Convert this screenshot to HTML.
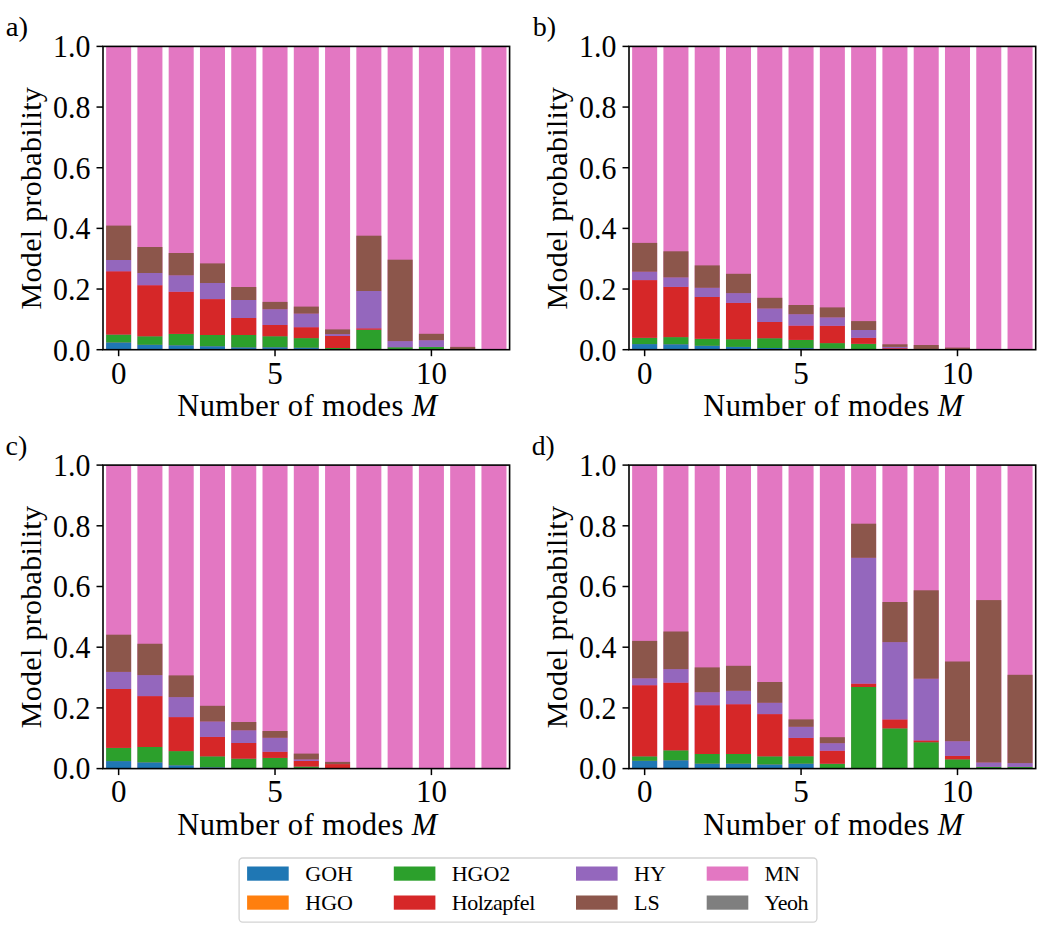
<!DOCTYPE html>
<html><head><meta charset="utf-8"><style>
html,body{margin:0;padding:0;background:#fff;}
svg{display:block;}
text{font-family:"Liberation Serif",serif;fill:#000;}
</style></head><body>
<svg width="1050" height="928" viewBox="0 0 1050 928">
<rect width="1050" height="928" fill="#fff"/>
<rect x="106.13" y="46.4" width="25.02" height="303.3" fill="#e377c2"/>
<rect x="106.13" y="342.5" width="25.02" height="7.2" fill="#1f77b4"/>
<rect x="106.13" y="334.5" width="25.02" height="8" fill="#2ca02c"/>
<rect x="106.13" y="271.25" width="25.02" height="63.25" fill="#d62728"/>
<rect x="106.13" y="260" width="25.02" height="11.25" fill="#9467bd"/>
<rect x="106.13" y="225.6" width="25.02" height="34.4" fill="#8c564b"/>
<rect x="137.4" y="46.4" width="25.02" height="303.3" fill="#e377c2"/>
<rect x="137.4" y="344.8" width="25.02" height="4.9" fill="#1f77b4"/>
<rect x="137.4" y="336.25" width="25.02" height="8.55" fill="#2ca02c"/>
<rect x="137.4" y="285.2" width="25.02" height="51.05" fill="#d62728"/>
<rect x="137.4" y="273" width="25.02" height="12.2" fill="#9467bd"/>
<rect x="137.4" y="247" width="25.02" height="26" fill="#8c564b"/>
<rect x="168.68" y="46.4" width="25.02" height="303.3" fill="#e377c2"/>
<rect x="168.68" y="345.3" width="25.02" height="4.4" fill="#1f77b4"/>
<rect x="168.68" y="333.9" width="25.02" height="11.4" fill="#2ca02c"/>
<rect x="168.68" y="291.7" width="25.02" height="42.2" fill="#d62728"/>
<rect x="168.68" y="275.3" width="25.02" height="16.4" fill="#9467bd"/>
<rect x="168.68" y="253" width="25.02" height="22.3" fill="#8c564b"/>
<rect x="199.96" y="46.4" width="25.02" height="303.3" fill="#e377c2"/>
<rect x="199.96" y="346.25" width="25.02" height="3.45" fill="#1f77b4"/>
<rect x="199.96" y="335" width="25.02" height="11.25" fill="#2ca02c"/>
<rect x="199.96" y="299.1" width="25.02" height="35.9" fill="#d62728"/>
<rect x="199.96" y="283" width="25.02" height="16.1" fill="#9467bd"/>
<rect x="199.96" y="263.4" width="25.02" height="19.6" fill="#8c564b"/>
<rect x="231.24" y="46.4" width="25.02" height="303.3" fill="#e377c2"/>
<rect x="231.24" y="347.4" width="25.02" height="2.3" fill="#1f77b4"/>
<rect x="231.24" y="335" width="25.02" height="12.4" fill="#2ca02c"/>
<rect x="231.24" y="318" width="25.02" height="17" fill="#d62728"/>
<rect x="231.24" y="300" width="25.02" height="18" fill="#9467bd"/>
<rect x="231.24" y="287" width="25.02" height="13" fill="#8c564b"/>
<rect x="262.51" y="46.4" width="25.02" height="303.3" fill="#e377c2"/>
<rect x="262.51" y="347.3" width="25.02" height="2.4" fill="#1f77b4"/>
<rect x="262.51" y="336.2" width="25.02" height="11.1" fill="#2ca02c"/>
<rect x="262.51" y="325" width="25.02" height="11.2" fill="#d62728"/>
<rect x="262.51" y="309.2" width="25.02" height="15.8" fill="#9467bd"/>
<rect x="262.51" y="301.9" width="25.02" height="7.3" fill="#8c564b"/>
<rect x="293.79" y="46.4" width="25.02" height="303.3" fill="#e377c2"/>
<rect x="293.79" y="347.75" width="25.02" height="1.95" fill="#1f77b4"/>
<rect x="293.79" y="338.1" width="25.02" height="9.65" fill="#2ca02c"/>
<rect x="293.79" y="327.2" width="25.02" height="10.9" fill="#d62728"/>
<rect x="293.79" y="313.6" width="25.02" height="13.6" fill="#9467bd"/>
<rect x="293.79" y="306.6" width="25.02" height="7" fill="#8c564b"/>
<rect x="325.07" y="46.4" width="25.02" height="303.3" fill="#e377c2"/>
<rect x="325.07" y="348" width="25.02" height="1.7" fill="#2ca02c"/>
<rect x="325.07" y="336" width="25.02" height="12" fill="#d62728"/>
<rect x="325.07" y="334.1" width="25.02" height="1.9" fill="#9467bd"/>
<rect x="325.07" y="329.4" width="25.02" height="4.7" fill="#8c564b"/>
<rect x="356.34" y="46.4" width="25.02" height="303.3" fill="#e377c2"/>
<rect x="356.34" y="329.7" width="25.02" height="20" fill="#2ca02c"/>
<rect x="356.34" y="328.3" width="25.02" height="1.4" fill="#d62728"/>
<rect x="356.34" y="291" width="25.02" height="37.3" fill="#9467bd"/>
<rect x="356.34" y="235.7" width="25.02" height="55.3" fill="#8c564b"/>
<rect x="387.62" y="46.4" width="25.02" height="303.3" fill="#e377c2"/>
<rect x="387.62" y="347.2" width="25.02" height="2.5" fill="#2ca02c"/>
<rect x="387.62" y="341.1" width="25.02" height="6.1" fill="#9467bd"/>
<rect x="387.62" y="259.7" width="25.02" height="81.4" fill="#8c564b"/>
<rect x="418.9" y="46.4" width="25.02" height="303.3" fill="#e377c2"/>
<rect x="418.9" y="346.9" width="25.02" height="2.8" fill="#2ca02c"/>
<rect x="418.9" y="340.2" width="25.02" height="6.7" fill="#9467bd"/>
<rect x="418.9" y="333.8" width="25.02" height="6.4" fill="#8c564b"/>
<rect x="450.17" y="46.4" width="25.02" height="303.3" fill="#e377c2"/>
<rect x="450.17" y="346.9" width="25.02" height="2.8" fill="#8c564b"/>
<rect x="481.45" y="46.4" width="25.02" height="303.3" fill="#e377c2"/>
<rect x="103" y="46.4" width="406.6" height="303.3" fill="none" stroke="#000" stroke-width="1.6"/>
<line x1="96.5" y1="349.7" x2="103" y2="349.7" stroke="#000" stroke-width="1.5"/>
<text x="90.3" y="360.5" text-anchor="end" font-size="31" textLength="37.3" lengthAdjust="spacingAndGlyphs">0.0</text>
<line x1="96.5" y1="289.04" x2="103" y2="289.04" stroke="#000" stroke-width="1.5"/>
<text x="90.3" y="299.84" text-anchor="end" font-size="31" textLength="37.3" lengthAdjust="spacingAndGlyphs">0.2</text>
<line x1="96.5" y1="228.38" x2="103" y2="228.38" stroke="#000" stroke-width="1.5"/>
<text x="90.3" y="239.18" text-anchor="end" font-size="31" textLength="37.3" lengthAdjust="spacingAndGlyphs">0.4</text>
<line x1="96.5" y1="167.72" x2="103" y2="167.72" stroke="#000" stroke-width="1.5"/>
<text x="90.3" y="178.52" text-anchor="end" font-size="31" textLength="37.3" lengthAdjust="spacingAndGlyphs">0.6</text>
<line x1="96.5" y1="107.06" x2="103" y2="107.06" stroke="#000" stroke-width="1.5"/>
<text x="90.3" y="117.86" text-anchor="end" font-size="31" textLength="37.3" lengthAdjust="spacingAndGlyphs">0.8</text>
<line x1="96.5" y1="46.4" x2="103" y2="46.4" stroke="#000" stroke-width="1.5"/>
<text x="90.3" y="57.2" text-anchor="end" font-size="31" textLength="37.3" lengthAdjust="spacingAndGlyphs">1.0</text>
<line x1="118.64" y1="349.7" x2="118.64" y2="356.2" stroke="#000" stroke-width="1.5"/>
<text x="118.64" y="383.5" text-anchor="middle" font-size="31">0</text>
<line x1="275.02" y1="349.7" x2="275.02" y2="356.2" stroke="#000" stroke-width="1.5"/>
<text x="275.02" y="383.5" text-anchor="middle" font-size="31">5</text>
<line x1="431.41" y1="349.7" x2="431.41" y2="356.2" stroke="#000" stroke-width="1.5"/>
<text x="431.41" y="383.5" text-anchor="middle" font-size="31">10</text>
<text x="177.2" y="416.1" font-size="30.5" textLength="260" lengthAdjust="spacing">Number of modes <tspan font-style="italic">M</tspan></text>
<text transform="translate(41,309.4) rotate(-90)" x="0" y="0" font-size="30" textLength="222.2" lengthAdjust="spacing">Model probability</text>
<text x="5.72" y="35.8" font-size="28" textLength="22.4" lengthAdjust="spacingAndGlyphs">a)</text>
<rect x="632.13" y="46.4" width="25.03" height="303.3" fill="#e377c2"/>
<rect x="632.13" y="344.1" width="25.03" height="5.6" fill="#1f77b4"/>
<rect x="632.13" y="337.8" width="25.03" height="6.3" fill="#2ca02c"/>
<rect x="632.13" y="280.1" width="25.03" height="57.7" fill="#d62728"/>
<rect x="632.13" y="271.7" width="25.03" height="8.4" fill="#9467bd"/>
<rect x="632.13" y="242.9" width="25.03" height="28.8" fill="#8c564b"/>
<rect x="663.41" y="46.4" width="25.03" height="303.3" fill="#e377c2"/>
<rect x="663.41" y="344.3" width="25.03" height="5.4" fill="#1f77b4"/>
<rect x="663.41" y="337.1" width="25.03" height="7.2" fill="#2ca02c"/>
<rect x="663.41" y="286.9" width="25.03" height="50.2" fill="#d62728"/>
<rect x="663.41" y="277.4" width="25.03" height="9.5" fill="#9467bd"/>
<rect x="663.41" y="251.3" width="25.03" height="26.1" fill="#8c564b"/>
<rect x="694.7" y="46.4" width="25.03" height="303.3" fill="#e377c2"/>
<rect x="694.7" y="345.8" width="25.03" height="3.9" fill="#1f77b4"/>
<rect x="694.7" y="338.8" width="25.03" height="7" fill="#2ca02c"/>
<rect x="694.7" y="297" width="25.03" height="41.8" fill="#d62728"/>
<rect x="694.7" y="287.8" width="25.03" height="9.2" fill="#9467bd"/>
<rect x="694.7" y="265.4" width="25.03" height="22.4" fill="#8c564b"/>
<rect x="725.98" y="46.4" width="25.03" height="303.3" fill="#e377c2"/>
<rect x="725.98" y="346.9" width="25.03" height="2.8" fill="#1f77b4"/>
<rect x="725.98" y="339.2" width="25.03" height="7.7" fill="#2ca02c"/>
<rect x="725.98" y="302.9" width="25.03" height="36.3" fill="#d62728"/>
<rect x="725.98" y="293.1" width="25.03" height="9.8" fill="#9467bd"/>
<rect x="725.98" y="273.8" width="25.03" height="19.3" fill="#8c564b"/>
<rect x="757.27" y="46.4" width="25.03" height="303.3" fill="#e377c2"/>
<rect x="757.27" y="348" width="25.03" height="1.7" fill="#1f77b4"/>
<rect x="757.27" y="338.2" width="25.03" height="9.8" fill="#2ca02c"/>
<rect x="757.27" y="322" width="25.03" height="16.2" fill="#d62728"/>
<rect x="757.27" y="308.5" width="25.03" height="13.5" fill="#9467bd"/>
<rect x="757.27" y="297.8" width="25.03" height="10.7" fill="#8c564b"/>
<rect x="788.55" y="46.4" width="25.03" height="303.3" fill="#e377c2"/>
<rect x="788.55" y="348.1" width="25.03" height="1.6" fill="#1f77b4"/>
<rect x="788.55" y="339.9" width="25.03" height="8.2" fill="#2ca02c"/>
<rect x="788.55" y="325.6" width="25.03" height="14.3" fill="#d62728"/>
<rect x="788.55" y="314.2" width="25.03" height="11.4" fill="#9467bd"/>
<rect x="788.55" y="305" width="25.03" height="9.2" fill="#8c564b"/>
<rect x="819.84" y="46.4" width="25.03" height="303.3" fill="#e377c2"/>
<rect x="819.84" y="348.7" width="25.03" height="1" fill="#1f77b4"/>
<rect x="819.84" y="343.1" width="25.03" height="5.6" fill="#2ca02c"/>
<rect x="819.84" y="325.8" width="25.03" height="17.3" fill="#d62728"/>
<rect x="819.84" y="317.4" width="25.03" height="8.4" fill="#9467bd"/>
<rect x="819.84" y="307.4" width="25.03" height="10" fill="#8c564b"/>
<rect x="851.12" y="46.4" width="25.03" height="303.3" fill="#e377c2"/>
<rect x="851.12" y="343.8" width="25.03" height="5.9" fill="#2ca02c"/>
<rect x="851.12" y="337.8" width="25.03" height="6" fill="#d62728"/>
<rect x="851.12" y="330" width="25.03" height="7.8" fill="#9467bd"/>
<rect x="851.12" y="321.1" width="25.03" height="8.9" fill="#8c564b"/>
<rect x="882.41" y="46.4" width="25.03" height="303.3" fill="#e377c2"/>
<rect x="882.41" y="349.2" width="25.03" height="0.5" fill="#2ca02c"/>
<rect x="882.41" y="348.2" width="25.03" height="1" fill="#d62728"/>
<rect x="882.41" y="346.9" width="25.03" height="1.3" fill="#9467bd"/>
<rect x="882.41" y="344.3" width="25.03" height="2.6" fill="#8c564b"/>
<rect x="913.69" y="46.4" width="25.03" height="303.3" fill="#e377c2"/>
<rect x="913.69" y="349" width="25.03" height="0.7" fill="#9467bd"/>
<rect x="913.69" y="345" width="25.03" height="4" fill="#8c564b"/>
<rect x="944.97" y="46.4" width="25.03" height="303.3" fill="#e377c2"/>
<rect x="944.97" y="347.6" width="25.03" height="2.1" fill="#8c564b"/>
<rect x="976.26" y="46.4" width="25.03" height="303.3" fill="#e377c2"/>
<rect x="1007.54" y="46.4" width="25.03" height="303.3" fill="#e377c2"/>
<rect x="629" y="46.4" width="406.7" height="303.3" fill="none" stroke="#000" stroke-width="1.6"/>
<line x1="622.5" y1="349.7" x2="629" y2="349.7" stroke="#000" stroke-width="1.5"/>
<text x="616.3" y="360.5" text-anchor="end" font-size="31" textLength="37.3" lengthAdjust="spacingAndGlyphs">0.0</text>
<line x1="622.5" y1="289.04" x2="629" y2="289.04" stroke="#000" stroke-width="1.5"/>
<text x="616.3" y="299.84" text-anchor="end" font-size="31" textLength="37.3" lengthAdjust="spacingAndGlyphs">0.2</text>
<line x1="622.5" y1="228.38" x2="629" y2="228.38" stroke="#000" stroke-width="1.5"/>
<text x="616.3" y="239.18" text-anchor="end" font-size="31" textLength="37.3" lengthAdjust="spacingAndGlyphs">0.4</text>
<line x1="622.5" y1="167.72" x2="629" y2="167.72" stroke="#000" stroke-width="1.5"/>
<text x="616.3" y="178.52" text-anchor="end" font-size="31" textLength="37.3" lengthAdjust="spacingAndGlyphs">0.6</text>
<line x1="622.5" y1="107.06" x2="629" y2="107.06" stroke="#000" stroke-width="1.5"/>
<text x="616.3" y="117.86" text-anchor="end" font-size="31" textLength="37.3" lengthAdjust="spacingAndGlyphs">0.8</text>
<line x1="622.5" y1="46.4" x2="629" y2="46.4" stroke="#000" stroke-width="1.5"/>
<text x="616.3" y="57.2" text-anchor="end" font-size="31" textLength="37.3" lengthAdjust="spacingAndGlyphs">1.0</text>
<line x1="644.64" y1="349.7" x2="644.64" y2="356.2" stroke="#000" stroke-width="1.5"/>
<text x="644.64" y="383.5" text-anchor="middle" font-size="31">0</text>
<line x1="801.07" y1="349.7" x2="801.07" y2="356.2" stroke="#000" stroke-width="1.5"/>
<text x="801.07" y="383.5" text-anchor="middle" font-size="31">5</text>
<line x1="957.49" y1="349.7" x2="957.49" y2="356.2" stroke="#000" stroke-width="1.5"/>
<text x="957.49" y="383.5" text-anchor="middle" font-size="31">10</text>
<text x="703.25" y="416.1" font-size="30.5" textLength="260" lengthAdjust="spacing">Number of modes <tspan font-style="italic">M</tspan></text>
<text transform="translate(567,309.4) rotate(-90)" x="0" y="0" font-size="30" textLength="222.2" lengthAdjust="spacing">Model probability</text>
<text x="532.7" y="35.8" font-size="28" textLength="23.4" lengthAdjust="spacingAndGlyphs">b)</text>
<rect x="106.13" y="465.1" width="25.02" height="303.5" fill="#e377c2"/>
<rect x="106.13" y="761.1" width="25.02" height="7.5" fill="#1f77b4"/>
<rect x="106.13" y="747.9" width="25.02" height="13.2" fill="#2ca02c"/>
<rect x="106.13" y="689" width="25.02" height="58.9" fill="#d62728"/>
<rect x="106.13" y="671.9" width="25.02" height="17.1" fill="#9467bd"/>
<rect x="106.13" y="634.7" width="25.02" height="37.2" fill="#8c564b"/>
<rect x="137.4" y="465.1" width="25.02" height="303.5" fill="#e377c2"/>
<rect x="137.4" y="762.4" width="25.02" height="6.2" fill="#1f77b4"/>
<rect x="137.4" y="747" width="25.02" height="15.4" fill="#2ca02c"/>
<rect x="137.4" y="696.1" width="25.02" height="50.9" fill="#d62728"/>
<rect x="137.4" y="675.1" width="25.02" height="21" fill="#9467bd"/>
<rect x="137.4" y="643.75" width="25.02" height="31.35" fill="#8c564b"/>
<rect x="168.68" y="465.1" width="25.02" height="303.5" fill="#e377c2"/>
<rect x="168.68" y="765.3" width="25.02" height="3.3" fill="#1f77b4"/>
<rect x="168.68" y="751.1" width="25.02" height="14.2" fill="#2ca02c"/>
<rect x="168.68" y="717.1" width="25.02" height="34" fill="#d62728"/>
<rect x="168.68" y="697.1" width="25.02" height="20" fill="#9467bd"/>
<rect x="168.68" y="675.4" width="25.02" height="21.7" fill="#8c564b"/>
<rect x="199.96" y="465.1" width="25.02" height="303.5" fill="#e377c2"/>
<rect x="199.96" y="767.3" width="25.02" height="1.3" fill="#1f77b4"/>
<rect x="199.96" y="756.3" width="25.02" height="11" fill="#2ca02c"/>
<rect x="199.96" y="736.9" width="25.02" height="19.4" fill="#d62728"/>
<rect x="199.96" y="721.5" width="25.02" height="15.4" fill="#9467bd"/>
<rect x="199.96" y="705.8" width="25.02" height="15.7" fill="#8c564b"/>
<rect x="231.24" y="465.1" width="25.02" height="303.5" fill="#e377c2"/>
<rect x="231.24" y="758.6" width="25.02" height="10" fill="#2ca02c"/>
<rect x="231.24" y="743" width="25.02" height="15.6" fill="#d62728"/>
<rect x="231.24" y="730.3" width="25.02" height="12.7" fill="#9467bd"/>
<rect x="231.24" y="722" width="25.02" height="8.3" fill="#8c564b"/>
<rect x="262.51" y="465.1" width="25.02" height="303.5" fill="#e377c2"/>
<rect x="262.51" y="757.9" width="25.02" height="10.7" fill="#2ca02c"/>
<rect x="262.51" y="751.75" width="25.02" height="6.15" fill="#d62728"/>
<rect x="262.51" y="737.8" width="25.02" height="13.95" fill="#9467bd"/>
<rect x="262.51" y="731" width="25.02" height="6.8" fill="#8c564b"/>
<rect x="293.79" y="465.1" width="25.02" height="303.5" fill="#e377c2"/>
<rect x="293.79" y="766.5" width="25.02" height="2.1" fill="#2ca02c"/>
<rect x="293.79" y="760.9" width="25.02" height="5.6" fill="#d62728"/>
<rect x="293.79" y="759.4" width="25.02" height="1.5" fill="#9467bd"/>
<rect x="293.79" y="753.6" width="25.02" height="5.8" fill="#8c564b"/>
<rect x="325.07" y="465.1" width="25.02" height="303.5" fill="#e377c2"/>
<rect x="325.07" y="764.1" width="25.02" height="4.5" fill="#d62728"/>
<rect x="325.07" y="761.9" width="25.02" height="2.2" fill="#8c564b"/>
<rect x="356.34" y="465.1" width="25.02" height="303.5" fill="#e377c2"/>
<rect x="387.62" y="465.1" width="25.02" height="303.5" fill="#e377c2"/>
<rect x="418.9" y="465.1" width="25.02" height="303.5" fill="#e377c2"/>
<rect x="450.17" y="465.1" width="25.02" height="303.5" fill="#e377c2"/>
<rect x="481.45" y="465.1" width="25.02" height="303.5" fill="#e377c2"/>
<rect x="103" y="465.1" width="406.6" height="303.5" fill="none" stroke="#000" stroke-width="1.6"/>
<line x1="96.5" y1="768.6" x2="103" y2="768.6" stroke="#000" stroke-width="1.5"/>
<text x="90.3" y="779.4" text-anchor="end" font-size="31" textLength="37.3" lengthAdjust="spacingAndGlyphs">0.0</text>
<line x1="96.5" y1="707.9" x2="103" y2="707.9" stroke="#000" stroke-width="1.5"/>
<text x="90.3" y="718.7" text-anchor="end" font-size="31" textLength="37.3" lengthAdjust="spacingAndGlyphs">0.2</text>
<line x1="96.5" y1="647.2" x2="103" y2="647.2" stroke="#000" stroke-width="1.5"/>
<text x="90.3" y="658" text-anchor="end" font-size="31" textLength="37.3" lengthAdjust="spacingAndGlyphs">0.4</text>
<line x1="96.5" y1="586.5" x2="103" y2="586.5" stroke="#000" stroke-width="1.5"/>
<text x="90.3" y="597.3" text-anchor="end" font-size="31" textLength="37.3" lengthAdjust="spacingAndGlyphs">0.6</text>
<line x1="96.5" y1="525.8" x2="103" y2="525.8" stroke="#000" stroke-width="1.5"/>
<text x="90.3" y="536.6" text-anchor="end" font-size="31" textLength="37.3" lengthAdjust="spacingAndGlyphs">0.8</text>
<line x1="96.5" y1="465.1" x2="103" y2="465.1" stroke="#000" stroke-width="1.5"/>
<text x="90.3" y="475.9" text-anchor="end" font-size="31" textLength="37.3" lengthAdjust="spacingAndGlyphs">1.0</text>
<line x1="118.64" y1="768.6" x2="118.64" y2="775.1" stroke="#000" stroke-width="1.5"/>
<text x="118.64" y="802.4" text-anchor="middle" font-size="31">0</text>
<line x1="275.02" y1="768.6" x2="275.02" y2="775.1" stroke="#000" stroke-width="1.5"/>
<text x="275.02" y="802.4" text-anchor="middle" font-size="31">5</text>
<line x1="431.41" y1="768.6" x2="431.41" y2="775.1" stroke="#000" stroke-width="1.5"/>
<text x="431.41" y="802.4" text-anchor="middle" font-size="31">10</text>
<text x="177.2" y="835" font-size="30.5" textLength="260" lengthAdjust="spacing">Number of modes <tspan font-style="italic">M</tspan></text>
<text transform="translate(41,728.2) rotate(-90)" x="0" y="0" font-size="30" textLength="222.2" lengthAdjust="spacing">Model probability</text>
<text x="5.58" y="454.5" font-size="28" textLength="21.8" lengthAdjust="spacingAndGlyphs">c)</text>
<rect x="632.13" y="465.1" width="25.03" height="303.5" fill="#e377c2"/>
<rect x="632.13" y="760.8" width="25.03" height="7.8" fill="#1f77b4"/>
<rect x="632.13" y="756.3" width="25.03" height="4.5" fill="#2ca02c"/>
<rect x="632.13" y="685.2" width="25.03" height="71.1" fill="#d62728"/>
<rect x="632.13" y="678.3" width="25.03" height="6.9" fill="#9467bd"/>
<rect x="632.13" y="640.9" width="25.03" height="37.4" fill="#8c564b"/>
<rect x="663.41" y="465.1" width="25.03" height="303.5" fill="#e377c2"/>
<rect x="663.41" y="760.3" width="25.03" height="8.3" fill="#1f77b4"/>
<rect x="663.41" y="750.3" width="25.03" height="10" fill="#2ca02c"/>
<rect x="663.41" y="682.6" width="25.03" height="67.7" fill="#d62728"/>
<rect x="663.41" y="669.1" width="25.03" height="13.5" fill="#9467bd"/>
<rect x="663.41" y="631.5" width="25.03" height="37.6" fill="#8c564b"/>
<rect x="694.7" y="465.1" width="25.03" height="303.5" fill="#e377c2"/>
<rect x="694.7" y="763.7" width="25.03" height="4.9" fill="#1f77b4"/>
<rect x="694.7" y="754" width="25.03" height="9.7" fill="#2ca02c"/>
<rect x="694.7" y="705.2" width="25.03" height="48.8" fill="#d62728"/>
<rect x="694.7" y="692.2" width="25.03" height="13" fill="#9467bd"/>
<rect x="694.7" y="667.4" width="25.03" height="24.8" fill="#8c564b"/>
<rect x="725.98" y="465.1" width="25.03" height="303.5" fill="#e377c2"/>
<rect x="725.98" y="763.7" width="25.03" height="4.9" fill="#1f77b4"/>
<rect x="725.98" y="754" width="25.03" height="9.7" fill="#2ca02c"/>
<rect x="725.98" y="704.2" width="25.03" height="49.8" fill="#d62728"/>
<rect x="725.98" y="690.8" width="25.03" height="13.4" fill="#9467bd"/>
<rect x="725.98" y="665.8" width="25.03" height="25" fill="#8c564b"/>
<rect x="757.27" y="465.1" width="25.03" height="303.5" fill="#e377c2"/>
<rect x="757.27" y="764.5" width="25.03" height="4.1" fill="#1f77b4"/>
<rect x="757.27" y="756.3" width="25.03" height="8.2" fill="#2ca02c"/>
<rect x="757.27" y="714.1" width="25.03" height="42.2" fill="#d62728"/>
<rect x="757.27" y="702.8" width="25.03" height="11.3" fill="#9467bd"/>
<rect x="757.27" y="682" width="25.03" height="20.8" fill="#8c564b"/>
<rect x="788.55" y="465.1" width="25.03" height="303.5" fill="#e377c2"/>
<rect x="788.55" y="763.7" width="25.03" height="4.9" fill="#1f77b4"/>
<rect x="788.55" y="756.2" width="25.03" height="7.5" fill="#2ca02c"/>
<rect x="788.55" y="737.9" width="25.03" height="18.3" fill="#d62728"/>
<rect x="788.55" y="726.8" width="25.03" height="11.1" fill="#9467bd"/>
<rect x="788.55" y="719.4" width="25.03" height="7.4" fill="#8c564b"/>
<rect x="819.84" y="465.1" width="25.03" height="303.5" fill="#e377c2"/>
<rect x="819.84" y="763.7" width="25.03" height="4.9" fill="#2ca02c"/>
<rect x="819.84" y="750.7" width="25.03" height="13" fill="#d62728"/>
<rect x="819.84" y="743.2" width="25.03" height="7.5" fill="#9467bd"/>
<rect x="819.84" y="737.2" width="25.03" height="6" fill="#8c564b"/>
<rect x="851.12" y="465.1" width="25.03" height="303.5" fill="#e377c2"/>
<rect x="851.12" y="687" width="25.03" height="81.6" fill="#2ca02c"/>
<rect x="851.12" y="683.6" width="25.03" height="3.4" fill="#d62728"/>
<rect x="851.12" y="557.8" width="25.03" height="125.8" fill="#9467bd"/>
<rect x="851.12" y="523.7" width="25.03" height="34.1" fill="#8c564b"/>
<rect x="882.41" y="465.1" width="25.03" height="303.5" fill="#e377c2"/>
<rect x="882.41" y="728.3" width="25.03" height="40.3" fill="#2ca02c"/>
<rect x="882.41" y="719.4" width="25.03" height="8.9" fill="#d62728"/>
<rect x="882.41" y="642.1" width="25.03" height="77.3" fill="#9467bd"/>
<rect x="882.41" y="602" width="25.03" height="40.1" fill="#8c564b"/>
<rect x="913.69" y="465.1" width="25.03" height="303.5" fill="#e377c2"/>
<rect x="913.69" y="742.2" width="25.03" height="26.4" fill="#2ca02c"/>
<rect x="913.69" y="740.4" width="25.03" height="1.8" fill="#d62728"/>
<rect x="913.69" y="678.7" width="25.03" height="61.7" fill="#9467bd"/>
<rect x="913.69" y="590.3" width="25.03" height="88.4" fill="#8c564b"/>
<rect x="944.97" y="465.1" width="25.03" height="303.5" fill="#e377c2"/>
<rect x="944.97" y="759.3" width="25.03" height="9.3" fill="#2ca02c"/>
<rect x="944.97" y="755.9" width="25.03" height="3.4" fill="#d62728"/>
<rect x="944.97" y="741.2" width="25.03" height="14.7" fill="#9467bd"/>
<rect x="944.97" y="661.5" width="25.03" height="79.7" fill="#8c564b"/>
<rect x="976.26" y="465.1" width="25.03" height="303.5" fill="#e377c2"/>
<rect x="976.26" y="766.8" width="25.03" height="1.8" fill="#2ca02c"/>
<rect x="976.26" y="762.5" width="25.03" height="4.3" fill="#9467bd"/>
<rect x="976.26" y="600.1" width="25.03" height="162.4" fill="#8c564b"/>
<rect x="1007.54" y="465.1" width="25.03" height="303.5" fill="#e377c2"/>
<rect x="1007.54" y="766.8" width="25.03" height="1.8" fill="#2ca02c"/>
<rect x="1007.54" y="763.1" width="25.03" height="3.7" fill="#9467bd"/>
<rect x="1007.54" y="674.8" width="25.03" height="88.3" fill="#8c564b"/>
<rect x="629" y="465.1" width="406.7" height="303.5" fill="none" stroke="#000" stroke-width="1.6"/>
<line x1="622.5" y1="768.6" x2="629" y2="768.6" stroke="#000" stroke-width="1.5"/>
<text x="616.3" y="779.4" text-anchor="end" font-size="31" textLength="37.3" lengthAdjust="spacingAndGlyphs">0.0</text>
<line x1="622.5" y1="707.9" x2="629" y2="707.9" stroke="#000" stroke-width="1.5"/>
<text x="616.3" y="718.7" text-anchor="end" font-size="31" textLength="37.3" lengthAdjust="spacingAndGlyphs">0.2</text>
<line x1="622.5" y1="647.2" x2="629" y2="647.2" stroke="#000" stroke-width="1.5"/>
<text x="616.3" y="658" text-anchor="end" font-size="31" textLength="37.3" lengthAdjust="spacingAndGlyphs">0.4</text>
<line x1="622.5" y1="586.5" x2="629" y2="586.5" stroke="#000" stroke-width="1.5"/>
<text x="616.3" y="597.3" text-anchor="end" font-size="31" textLength="37.3" lengthAdjust="spacingAndGlyphs">0.6</text>
<line x1="622.5" y1="525.8" x2="629" y2="525.8" stroke="#000" stroke-width="1.5"/>
<text x="616.3" y="536.6" text-anchor="end" font-size="31" textLength="37.3" lengthAdjust="spacingAndGlyphs">0.8</text>
<line x1="622.5" y1="465.1" x2="629" y2="465.1" stroke="#000" stroke-width="1.5"/>
<text x="616.3" y="475.9" text-anchor="end" font-size="31" textLength="37.3" lengthAdjust="spacingAndGlyphs">1.0</text>
<line x1="644.64" y1="768.6" x2="644.64" y2="775.1" stroke="#000" stroke-width="1.5"/>
<text x="644.64" y="802.4" text-anchor="middle" font-size="31">0</text>
<line x1="801.07" y1="768.6" x2="801.07" y2="775.1" stroke="#000" stroke-width="1.5"/>
<text x="801.07" y="802.4" text-anchor="middle" font-size="31">5</text>
<line x1="957.49" y1="768.6" x2="957.49" y2="775.1" stroke="#000" stroke-width="1.5"/>
<text x="957.49" y="802.4" text-anchor="middle" font-size="31">10</text>
<text x="703.25" y="835" font-size="30.5" textLength="260" lengthAdjust="spacing">Number of modes <tspan font-style="italic">M</tspan></text>
<text transform="translate(567,728.2) rotate(-90)" x="0" y="0" font-size="30" textLength="222.2" lengthAdjust="spacing">Model probability</text>
<text x="531.72" y="454.5" font-size="28" textLength="23.0" lengthAdjust="spacingAndGlyphs">d)</text>
<rect x="239.1" y="858.0" width="577.8" height="64.1" rx="3.5" ry="3.5" fill="#fff" stroke="#d4d4d4" stroke-width="1.3"/>
<rect x="247.1" y="866.5" width="41.6" height="14.2" fill="#1f77b4"/>
<text x="305.3" y="881.1" font-size="22">GOH</text>
<rect x="247.1" y="895.5" width="41.6" height="14.2" fill="#ff7f0e"/>
<text x="305.3" y="910.1" font-size="22">HGO</text>
<rect x="393.8" y="866.5" width="41.6" height="14.2" fill="#2ca02c"/>
<text x="451.7" y="881.1" font-size="22">HGO2</text>
<rect x="393.8" y="895.5" width="41.6" height="14.2" fill="#d62728"/>
<text x="451.7" y="910.1" font-size="22" textLength="83.6">Holzapfel</text>
<rect x="576.0" y="866.5" width="41.6" height="14.2" fill="#9467bd"/>
<text x="634.1" y="881.1" font-size="22">HY</text>
<rect x="576.0" y="895.5" width="41.6" height="14.2" fill="#8c564b"/>
<text x="634.1" y="910.1" font-size="22">LS</text>
<rect x="706.7" y="866.5" width="41.6" height="14.2" fill="#e377c2"/>
<text x="764.5" y="881.1" font-size="22">MN</text>
<rect x="706.7" y="895.5" width="41.6" height="14.2" fill="#7f7f7f"/>
<text x="764.5" y="910.1" font-size="22" textLength="44">Yeoh</text>
</svg>
</body></html>
